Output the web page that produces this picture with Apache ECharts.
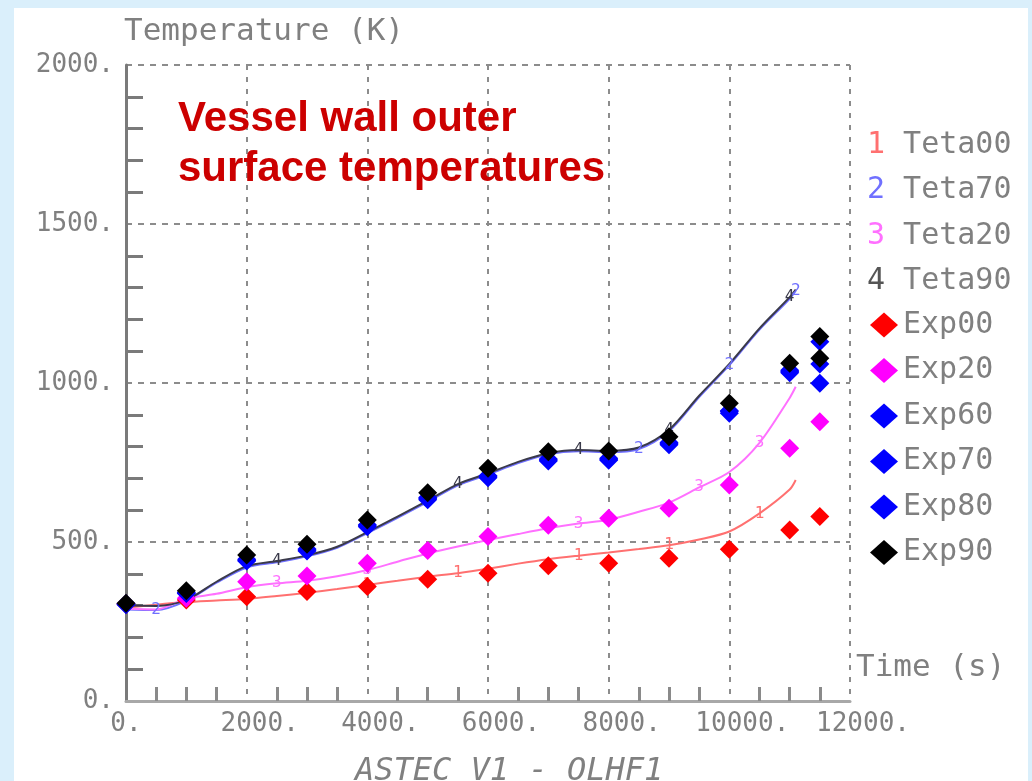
<!DOCTYPE html>
<html>
<head>
<meta charset="utf-8">
<script src="https://cdn.jsdelivr.net/npm/echarts@6/dist/echarts.min.js"></script>
<style>
html,body{margin:0;padding:0;background:#daeffb;}
#chart{width:1032px;height:781px;}
</style>
</head>
<body>
<div id="chart"></div>
<script>
// ---- data ----
const simTime = [0,500,1000,1500,2000,2500,3000,3500,4000,4500,5000,5500,6000,6500,7000,7500,8000,8500,9000,9500,10000,10500,11000,11100];
const teta00 = [293,303,311,316,321,330,340,352,365,378,391,402,416,432,446,457,467,478,490,508,533,590,665,695];
const teta70 = [288,286,315,372,420,436,455,482,528,576,626,678,712,748,776,785,782,792,848,956,1056,1168,1265,1290];
const teta20 = [290,288,322,337,358,370,378,392,412,438,464,486,506,525,543,558,570,595,624,672,720,812,953,988];
const teta90 = [300,299,318,375,424,440,458,485,531,580,630,682,716,752,779,789,787,797,853,960,1060,1172,1270,1294];

const expTime = [0,1000,2000,3000,4000,5000,6000,7000,8000,9000,10000,11000,11500];
const exp00 = [305,318,328,344,360,383,402,425,433,449,477,538,580];
const exp20 = [305,323,375,393,433,473,517,553,575,606,679,795,878];
const exp60 = [303,338,440,472,548,633,702,755,757,806,905,1032,999];
const exp70 = [305,340,443,475,551,637,705,758,760,810,910,1036,1130];
const exp80 = [306,342,446,478,554,640,708,761,763,813,913,1040,1060];
const exp90 = [307,347,459,493,569,655,732,784,786,831,936,1062,1146];
const exp90ExtraTime = [11500];
const exp90Extra = [1078];

// curve-label positions (indices into simTime)
const lab00 = [8,11,15,18,21];
const lab70 = [1,10,17,20,23];
const lab20 = [5,8,15,19,21];
const lab90 = [5,11,15,18,22];

const xTicks = {min:0, max:12000, interval:2000};
const yTicks = {min:0, max:2000, interval:500};

// ---- chart ----
const MONO = "'DejaVu Sans Mono', 'Liberation Mono', monospace";
const GREY = '#808080';
const chart = echarts.init(document.getElementById('chart'));

function pairs(t, v){ return t.map((x,i)=>[x, v[i]]); }

function simSeries(name, vals, color, digit, labIdx){
  return {
    name, type:'line', data: pairs(simTime, vals), smooth:0.3,
    symbol:'circle', symbolSize:1, showSymbol:true, showAllSymbol:true,
    itemStyle:{color:'transparent'},
    lineStyle:{color, width:2},
    label:{show:true, position:'inside', color, fontFamily:MONO, fontSize:16,
      formatter:p=> labIdx.includes(p.dataIndex) ? digit : ''},
    emphasis:{disabled:true}, silent:true, z:2
  };
}
function expSeries(name, t, vals, color){
  return {name, type:'scatter', data:pairs(t, vals), symbol:'diamond', symbolSize:19,
    itemStyle:{color, opacity:1}, emphasis:{disabled:true}, z:3};
}

const option = {
  backgroundColor:'#daeffb',
  animation:false,
  grid:{left:126, right:182, top:65, bottom:80},
  xAxis:{type:'value', min:xTicks.min, max:xTicks.max, interval:xTicks.interval,
    axisLine:{lineStyle:{color:'#a8a8a8', width:3}},
    axisTick:{show:false, inside:true},
    minorTick:{show:true, splitNumber:4, length:14, lineStyle:{color:'#8a8a8a', width:3}},
    splitLine:{show:true, lineStyle:{type:[5,7], color:'#8c8c8c', width:2}},
    axisLabel:{formatter:v=> v===0 ? '{z|0.}' : '{n|'+v+'.}', fontFamily:MONO, fontSize:26, color:GREY, margin:10,
      rich:{
        z:{fontFamily:MONO, fontSize:26, color:GREY, padding:[0,0,0,0]},
        n:{fontFamily:MONO, fontSize:26, color:GREY, padding:[0,0,0,26]}
      }}
  },
  yAxis:{type:'value', min:yTicks.min, max:yTicks.max, interval:yTicks.interval,
    axisLine:{show:true, lineStyle:{color:'#7a7a7a', width:3}},
    axisTick:{show:false, inside:true},
    minorTick:{show:true, splitNumber:5, length:17, lineStyle:{color:'#7a7a7a', width:3}},
    splitLine:{show:true, lineStyle:{type:[6,6], color:'#8c8c8c', width:2}},
    axisLabel:{formatter:v=>v+'.', fontFamily:MONO, fontSize:26, color:GREY, margin:12}
  },
  legend:[
    {orient:'vertical', left:857, top:125, itemGap:15.5, itemWidth:0, itemHeight:14,
     icon:'rect', inactiveColor:'#ccc',
     data:['Teta00','Teta70','Teta20','Teta90'],
     itemStyle:{opacity:0}, lineStyle:{opacity:0},
     textStyle:{fontFamily:MONO, fontSize:30, color:GREY, lineHeight:30,
       rich:{
         d1:{color:'#ff7070', fontFamily:MONO, fontSize:30, lineHeight:30},
         d2:{color:'#7070ff', fontFamily:MONO, fontSize:30, lineHeight:30},
         d3:{color:'#ff70ff', fontFamily:MONO, fontSize:30, lineHeight:30},
         d4:{color:'#555555', fontFamily:MONO, fontSize:30, lineHeight:30}
       }},
     formatter:n=>{
       const m={Teta00:['d1','1'],Teta70:['d2','2'],Teta20:['d3','3'],Teta90:['d4','4']}[n];
       return '{'+m[0]+'|'+m[1]+'} '+n;
     }
    },
    {orient:'vertical', left:865, top:305, itemGap:15.5, itemWidth:28, itemHeight:25,
     icon:'diamond',
     data:['Exp00','Exp20','Exp60','Exp70','Exp80','Exp90'],
     textStyle:{fontFamily:MONO, fontSize:30, color:GREY, lineHeight:30}
    }
  ],
  graphic:[
    {type:'rect', shape:{x:14, y:8, width:1014, height:790}, style:{fill:'#ffffff'}, z:-10, silent:true},
    {type:'text', left:178, top:94, z:10, silent:true,
     style:{text:'Vessel wall outer\nsurface temperatures', fill:'#cc0000',
       font:"bold 42px 'Liberation Sans', Arial, sans-serif", lineHeight:50}},
    {type:'text', x:124, y:32, z:10, silent:true,
     style:{text:'Temperature (K)', fill:GREY, font:"31px "+MONO, textVerticalAlign:'middle'}},
    {type:'text', x:856, y:668, z:10, silent:true,
     style:{text:'Time (s)', fill:GREY, font:"31px "+MONO, textVerticalAlign:'middle'}},
    {type:'text', x:355, y:772, z:10, silent:true,
     style:{text:'ASTEC V1 - OLHF1', fill:GREY, font:"italic 32px "+MONO, textVerticalAlign:'middle'}}
  ],
  series:[
    simSeries('Teta00', teta00, '#ff7070', '1', lab00),
    simSeries('Teta70', teta70, '#7070ff', '2', lab70),
    simSeries('Teta20', teta20, '#ff70ff', '3', lab20),
    simSeries('Teta90', teta90, '#3a3a4a', '4', lab90),
    expSeries('Exp00', expTime, exp00, '#ff0000'),
    expSeries('Exp20', expTime, exp20, '#ff00ff'),
    expSeries('Exp60', expTime, exp60, '#0000ff'),
    expSeries('Exp70', expTime, exp70, '#0000ff'),
    expSeries('Exp80', expTime, exp80, '#0000ff'),
    expSeries('Exp90', expTime, exp90, '#000000'),
    expSeries('Exp90', exp90ExtraTime, exp90Extra, '#000000')
  ]
};
chart.setOption(option);
</script>
</body>
</html>
